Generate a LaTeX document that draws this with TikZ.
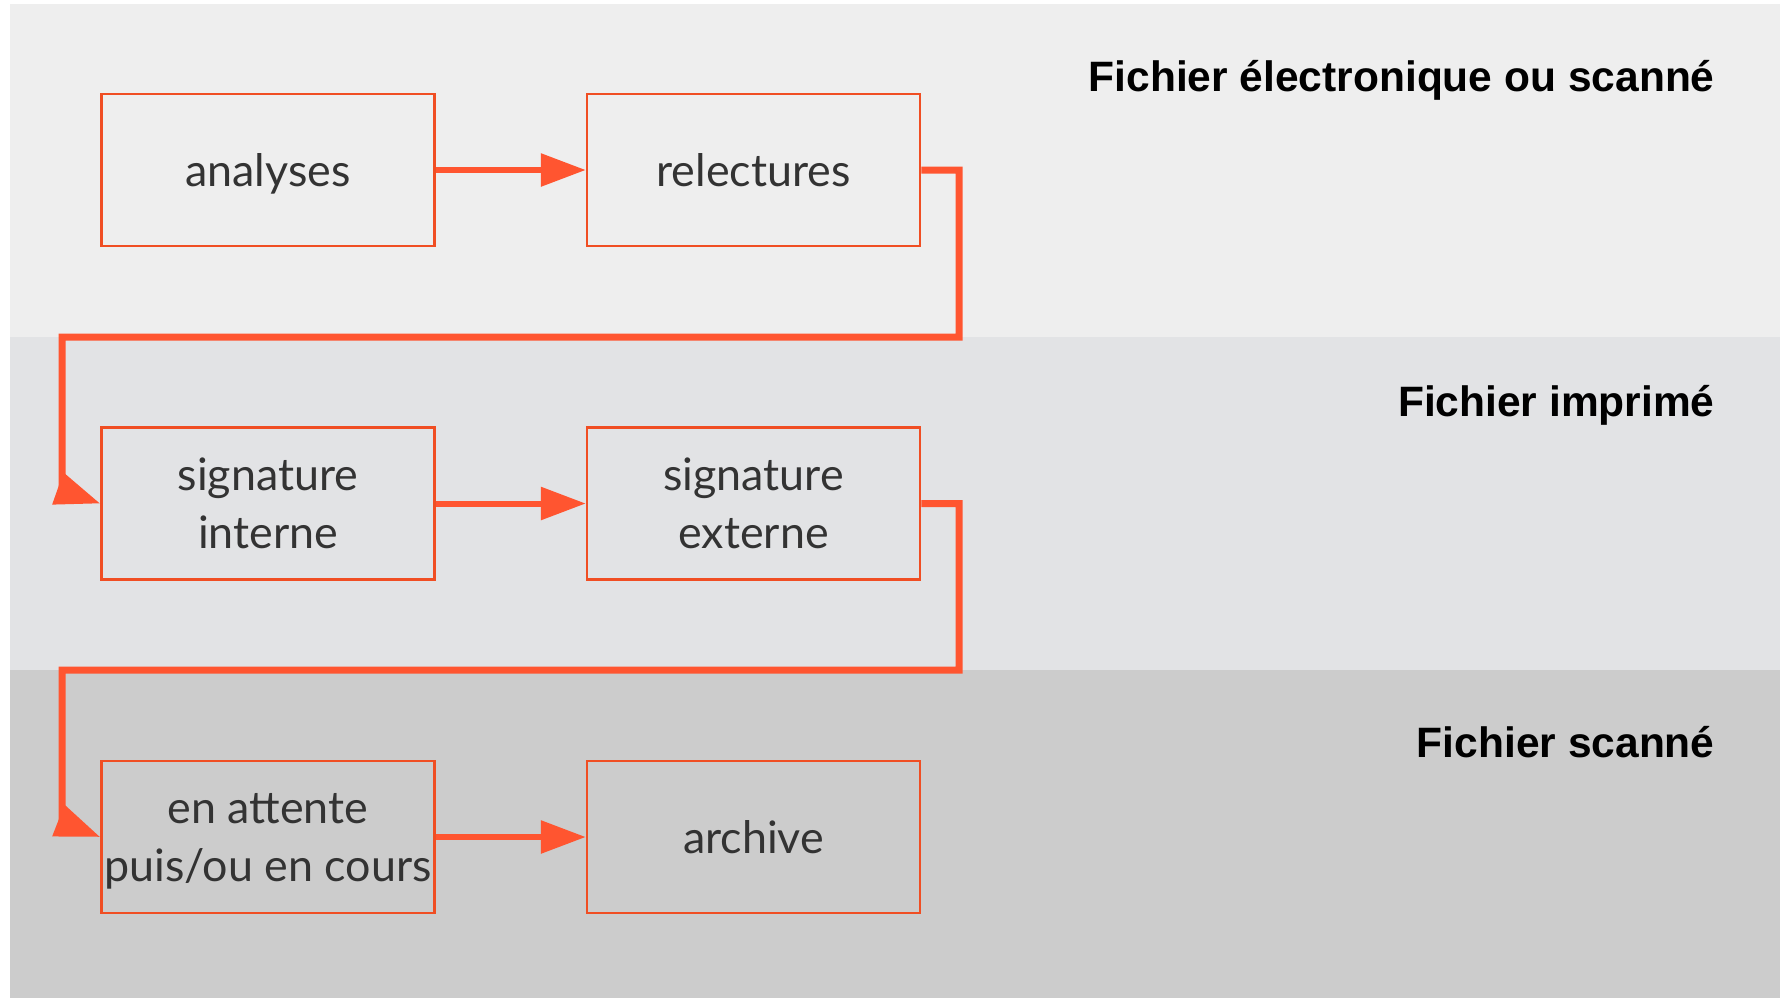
\documentclass[tikz,border=0pt]{standalone}
\usepackage{fontspec}
\setmainfont{Lato}
\newfontfamily\headfont{Liberation Sans}
\usetikzlibrary{arrows.meta,positioning}
\definecolor{bandA}{HTML}{EEEEEE}
\definecolor{bandB}{HTML}{E2E3E5}
\definecolor{bandC}{HTML}{CCCCCC}
\definecolor{flow}{HTML}{FF5530}
\definecolor{edge}{HTML}{F04E23}
\definecolor{ink}{HTML}{333333}

\begin{document}
\begin{tikzpicture}[
  x=0.5pt, y=-0.5pt,
  font=\fontsize{22.4}{29}\selectfont,
  node distance=89.5pt and 75pt,
  stepbox/.style={draw=edge, line width=1.25pt, minimum width=166.5pt, minimum height=76pt, inner sep=0pt, text depth=-3.4pt, align=center, text=ink},
  title/.style={font=\headfont\bfseries\fontsize{21.25}{25}\selectfont, inner sep=0pt, anchor=base east},
  arrow/.style={draw=flow, line width=3pt, -{Triangle[length=22.5pt,width=16pt]}},
  link/.style={draw=flow, line width=3.5pt, -{Triangle[length=22.5pt,width=16pt]}}
]
\useasboundingbox (0,0) rectangle (1783,998);
% Bands
\fill[bandA] (10,4) rectangle (1780,337);
\fill[bandB] (10,337) rectangle (1780,670);
\fill[bandC] (10,670) rectangle (1780,998);
\node[title] (tscan) at (1715,91) {Fichier électronique ou scanné};
\node[title] (tprint) at (1715,416) {Fichier imprimé};
\node[title] (tarch) at (1715,757) {Fichier scanné};
% Steps
\node[stepbox] (analyses) at (268,170) {analyses};
\node[stepbox, right=of analyses] (relectures) {relectures};
\node[stepbox, below=of analyses] (sigint) {signature\\interne};
\node[stepbox, right=of sigint] (sigext) {signature\\externe};
\node[stepbox, below=of sigint] (attente) {en attente\\puis/ou en cours};
\node[stepbox, right=of attente] (archive) {archive};
\draw[arrow] (analyses) -- (relectures);
\draw[arrow] (sigint) -- (sigext);
\draw[arrow] (attente) -- (archive);
% Returns to next row
\coordinate (turnA) at (959,337);
\coordinate (dropA) at (62,490);
\coordinate (turnB) at (959,670);
\coordinate (dropB) at (62,822);
\draw[link] (relectures.east) -| (turnA) -| (dropA) -- (sigint.west);
\draw[link] (sigext.east) -| (turnB) -| (dropB) -- (attente.west);
\end{tikzpicture}
\end{document}
